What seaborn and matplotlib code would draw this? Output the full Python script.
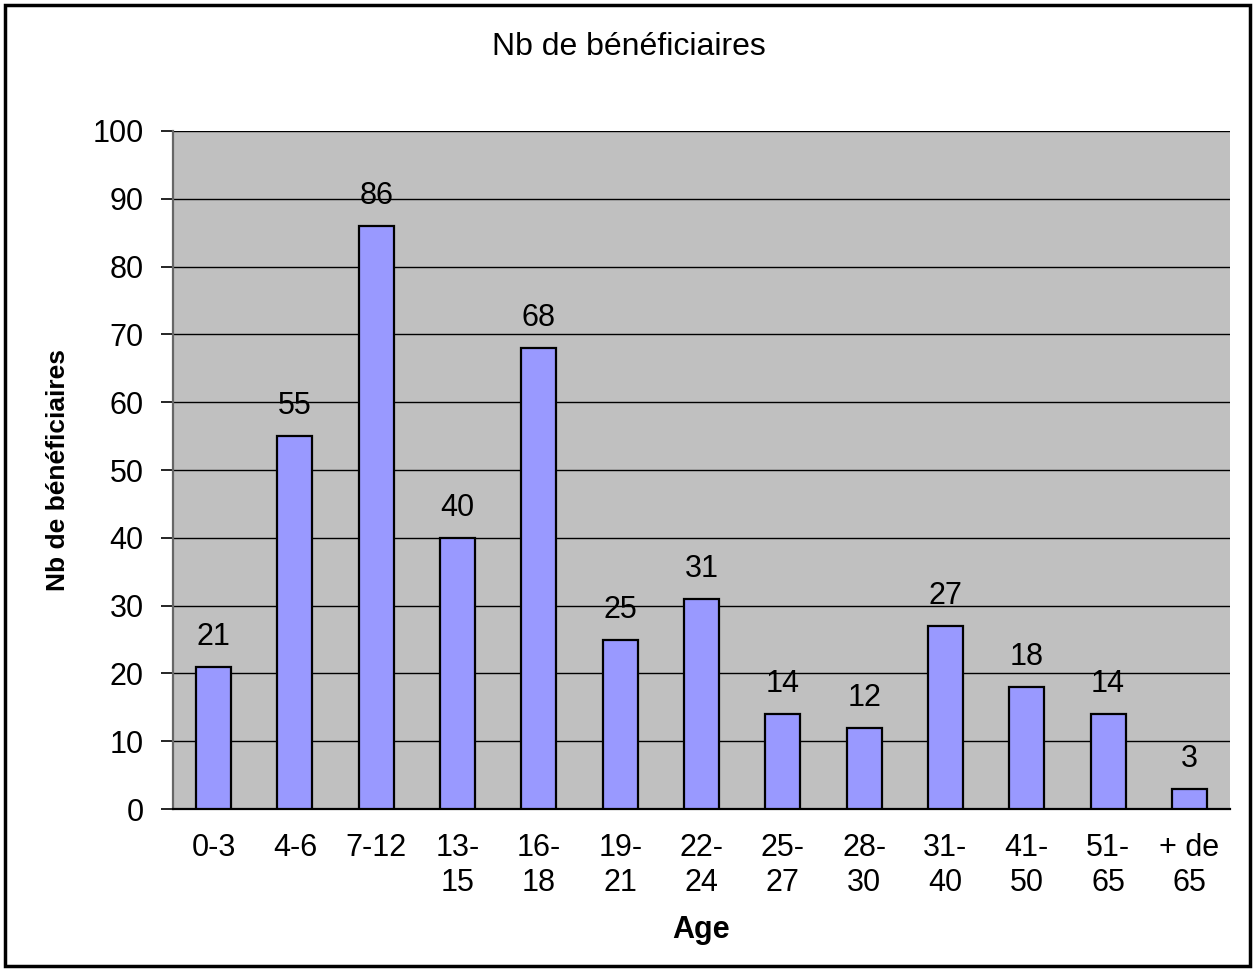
import matplotlib
matplotlib.use("Agg")
import matplotlib.pyplot as plt
from matplotlib.patches import Rectangle
import seaborn as sns
import pandas as pd

# Age groups and number of beneficiaries per group
age_groups = ["0-3", "4-6", "7-12", "13-\n15", "16-\n18", "19-\n21", "22-\n24",
              "25-\n27", "28-\n30", "31-\n40", "41-\n50", "51-\n65", "+ de\n65"]
beneficiaries = [21, 55, 86, 40, 68, 25, 31, 14, 12, 27, 18, 14, 3]
y_ticks = list(range(0, 101, 10))

sns.set_style("white")
plt.rcParams["font.family"] = ["Liberation Sans", "DejaVu Sans"]
plt.rcParams["text.color"] = "black"
plt.rcParams["xtick.color"] = "black"
plt.rcParams["ytick.color"] = "black"
plt.rcParams["axes.labelcolor"] = "black"

df = pd.DataFrame({"Age": age_groups, "Nb": beneficiaries})

fig = plt.figure(figsize=(12.55, 9.71), dpi=100)
ax = fig.add_axes([173 / 1255, 1 - 809 / 971, (1230 - 173) / 1255, (809 - 131) / 971])
ax.set_facecolor("#C0C0C0")

sns.barplot(data=df, x="Age", y="Nb", ax=ax, color="#9999FF", width=0.43,
            saturation=1, edgecolor="black", linewidth=1.6, zorder=3)

ax.set_ylim(0, 100)
ax.set_xlim(-0.5, len(age_groups) - 0.5)
ax.set_yticks(y_ticks)
ax.set_yticklabels([str(v) for v in y_ticks], fontsize=22)
ax.yaxis.grid(True, color="black", linewidth=1.0, zorder=0)
ax.set_axisbelow(True)

# category labels centered, tick marks at the boundaries
ax.set_xticks(range(len(age_groups)))
ax.set_xticklabels(age_groups, fontsize=22, linespacing=1.24, va="top")
ax.tick_params(axis="x", length=0, pad=17)
ax.set_xticks([i - 0.5 for i in range(len(age_groups) + 1)], minor=True)
ax.tick_params(axis="x", which="minor", length=9, width=1.2, color="#555555", direction="out")
ax.tick_params(axis="y", length=9, width=1.2, color="black", direction="out", pad=12, left=True)

for side in ["top", "right"]:
    ax.spines[side].set_visible(False)
ax.spines["left"].set_color("#666666")
ax.spines["left"].set_linewidth(1.6)
ax.spines["bottom"].set_color("black")
ax.spines["bottom"].set_linewidth(1.6)

# value labels above each bar
for i, v in enumerate(beneficiaries):
    ax.text(i, v + 2.2, str(v), ha="center", va="bottom", fontsize=22)

ax.set_xlabel("Age", fontsize=22, fontweight="bold", labelpad=12)
ax.set_ylabel("Nb de bénéficiaires", fontsize=19, fontweight="bold", labelpad=16)

fig.text(629 / 1255, 1 - 47 / 971, "Nb de bénéficiaires", ha="center", va="center", fontsize=23)

# outer frame around the whole chart
fig.patches.append(Rectangle((5 / 1255, 5 / 971), 1245 / 1255, 961 / 971,
                             transform=fig.transFigure, fill=False,
                             edgecolor="black", linewidth=2.5))

fig.savefig("out.png", dpi=100)
